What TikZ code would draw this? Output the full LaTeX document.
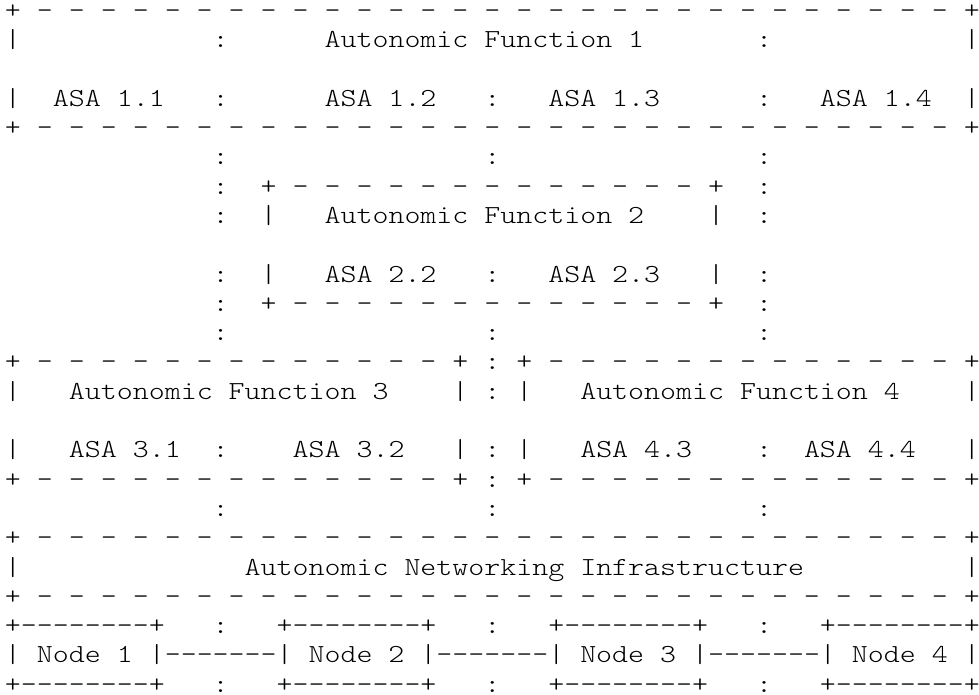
\documentclass[tikz,border=0pt]{standalone}
\usepackage{fontspec}
\newfontfamily\af{lmmonolt10-regular.otf}[FakeStretch=1.1707]
\newcommand\asciifnt{\af\fontsize{26}{29}\selectfont
  \fontdimen2\font=15.98pt\relax\fontdimen3\font=0pt\relax
  \fontdimen4\font=0pt\relax\frenchspacing}
% dashed border: + - - ... - +
\newcommand\border[1]{+\foreach\i in {1,...,#1}{\ -}\ +}
% solid run of hyphens (kerns stop TeX dash ligatures)
\newcommand\dsh[1]{\foreach\i in {1,...,#1}{-\kern0pt}}
\begin{document}
\begin{tikzpicture}[x=15.98pt,y=-29.3pt,
  t/.style={anchor=base west,inner sep=0pt,outer sep=0pt,font=\asciifnt,text=black}]
\useasboundingbox (0pt,0pt) rectangle (979pt,-695pt);
\begin{scope}[shift={(5pt,-18.3pt)}]
% ---- Autonomic Function 1
\node[t] (b0) at (0,0) {\border{29}};
\node[t] (f1l) at (0,1) {|};
\node[t] (c1a) at (13,1) {:};
\node[t] (af1) at (20,1) {Autonomic Function 1};
\node[t] (c1b) at (47,1) {:};
\node[t] (f1r) at (60,1) {|};
\node[t] (f3l) at (0,3) {|};
\node[t] (asa11) at (3,3) {ASA 1.1};
\node[t] (c3a) at (13,3) {:};
\node[t] (asa12) at (20,3) {ASA 1.2};
\node[t] (c3b) at (30,3) {:};
\node[t] (asa13) at (34,3) {ASA 1.3};
\node[t] (c3c) at (47,3) {:};
\node[t] (asa14) at (51,3) {ASA 1.4};
\node[t] (f3r) at (60,3) {|};
\node[t] (b4) at (0,4) {\border{29}};
% ---- between 1 and 2
\node[t] (c5a) at (13,5) {:};
\node[t] (c5b) at (30,5) {:};
\node[t] (c5c) at (47,5) {:};
% ---- Autonomic Function 2
\node[t] (c6a) at (13,6) {:};
\node[t] (b6) at (16,6) {\border{13}};
\node[t] (c6b) at (47,6) {:};
\node[t] (c7a) at (13,7) {:};
\node[t] (f7l) at (16,7) {|};
\node[t] (af2) at (20,7) {Autonomic Function 2};
\node[t] (f7r) at (44,7) {|};
\node[t] (c7b) at (47,7) {:};
\node[t] (c9a) at (13,9) {:};
\node[t] (f9l) at (16,9) {|};
\node[t] (asa22) at (20,9) {ASA 2.2};
\node[t] (c9b) at (30,9) {:};
\node[t] (asa23) at (34,9) {ASA 2.3};
\node[t] (f9r) at (44,9) {|};
\node[t] (c9c) at (47,9) {:};
\node[t] (c10a) at (13,10) {:};
\node[t] (b10) at (16,10) {\border{13}};
\node[t] (c10b) at (47,10) {:};
\node[t] (c11a) at (13,11) {:};
\node[t] (c11b) at (30,11) {:};
\node[t] (c11c) at (47,11) {:};
% ---- Autonomic Functions 3 and 4
\node[t] (b12a) at (0,12) {\border{13}};
\node[t] (c12) at (30,12) {:};
\node[t] (b12b) at (32,12) {\border{13}};
\node[t] (f13a) at (0,13) {|};
\node[t] (af3) at (4,13) {Autonomic Function 3};
\node[t] (f13b) at (28,13) {|};
\node[t] (c13) at (30,13) {:};
\node[t] (f13c) at (32,13) {|};
\node[t] (af4) at (36,13) {Autonomic Function 4};
\node[t] (f13d) at (60,13) {|};
\node[t] (f15a) at (0,15) {|};
\node[t] (asa31) at (4,15) {ASA 3.1};
\node[t] (c15a) at (13,15) {:};
\node[t] (asa32) at (18,15) {ASA 3.2};
\node[t] (f15b) at (28,15) {|};
\node[t] (c15b) at (30,15) {:};
\node[t] (f15c) at (32,15) {|};
\node[t] (asa43) at (36,15) {ASA 4.3};
\node[t] (c15c) at (47,15) {:};
\node[t] (asa44) at (50,15) {ASA 4.4};
\node[t] (f15d) at (60,15) {|};
\node[t] (b16a) at (0,16) {\border{13}};
\node[t] (c16) at (30,16) {:};
\node[t] (b16b) at (32,16) {\border{13}};
\node[t] (c17a) at (13,17) {:};
\node[t] (c17b) at (30,17) {:};
\node[t] (c17c) at (47,17) {:};
% ---- Autonomic Networking Infrastructure
\node[t] (b18) at (0,18) {\border{29}};
\node[t] (f19l) at (0,19) {|};
\node[t] (ani) at (15,19) {Autonomic Networking Infrastructure};
\node[t] (f19r) at (60,19) {|};
\node[t] (b20) at (0,20) {\border{29}};
% ---- Nodes
\node[t] (n1t) at (0,21) {+\dsh{8}+};
\node[t] (c21a) at (13,21) {:};
\node[t] (n2t) at (17,21) {+\dsh{8}+};
\node[t] (c21b) at (30,21) {:};
\node[t] (n3t) at (34,21) {+\dsh{8}+};
\node[t] (c21c) at (47,21) {:};
\node[t] (n4t) at (51,21) {+\dsh{8}+};
\node[t] (n1) at (0,22) {| Node 1 |};
\node[t] (l12) at (10,22) {\dsh{7}};
\node[t] (n2) at (17,22) {| Node 2 |};
\node[t] (l23) at (27,22) {\dsh{7}};
\node[t] (n3) at (34,22) {| Node 3 |};
\node[t] (l34) at (44,22) {\dsh{7}};
\node[t] (n4) at (51,22) {| Node 4 |};
\node[t] (n1b) at (0,23) {+\dsh{8}+};
\node[t] (c23a) at (13,23) {:};
\node[t] (n2b) at (17,23) {+\dsh{8}+};
\node[t] (c23b) at (30,23) {:};
\node[t] (n3b) at (34,23) {+\dsh{8}+};
\node[t] (c23c) at (47,23) {:};
\node[t] (n4b) at (51,23) {+\dsh{8}+};
\end{scope}
\end{tikzpicture}
\end{document}
